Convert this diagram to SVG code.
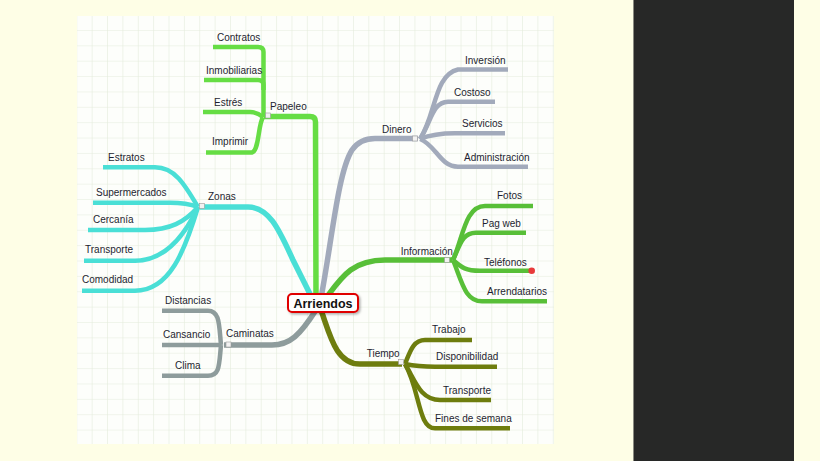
<svg xmlns="http://www.w3.org/2000/svg" width="820" height="461" viewBox="0 0 820 461">
<defs>
<pattern id="grid" x="76.3" y="14.6" width="15.37" height="15.37" patternUnits="userSpaceOnUse">
<path d="M0,0 H15.37 M0,0 V15.37" fill="none" stroke="#e4ecdc" stroke-width="1.2"/>
</pattern>
<filter id="sh" x="-20%" y="-40%" width="140%" height="180%">
<feDropShadow dx="1.5" dy="1.5" stdDeviation="1" flood-color="#000" flood-opacity="0.3"/>
</filter>
</defs>
<style>
.t{font-family:"Liberation Sans",Arial,sans-serif;font-size:10px;fill:#1e1e30}
.b{fill:none;stroke-linecap:butt;stroke-linejoin:round}
.main{stroke-width:5.5}
.leaf{stroke-width:4.5}
.pap{stroke:#66dd44}
.din{stroke:#a2aabb}
.inf{stroke:#58bf38}
.tie{stroke:#6e7d0e}
.cam{stroke:#8e9c9c}
.zon{stroke:#4adfd6}
.cb{fill:#f2f2f2;stroke:#999;stroke-width:0.6}
</style>
<rect width="820" height="461" fill="#fefee6"/>
<rect x="633" y="0" width="161" height="461" fill="#272827"/>
<rect x="633" y="0" width="1" height="461" fill="#8a8a80"/>
<rect x="77" y="16" width="477" height="428" fill="#fdfefb"/>
<rect x="77" y="16" width="477" height="428" fill="url(#grid)"/>

<g id="connectors">
<path class="b main pap" d="M316,298 L315.5,122 Q315.5,116.5 310,116.5 L264,116.5"/>
<path class="b leaf pap" d="M263.5,117 L263.5,52 Q263.5,47 258,47 L213,47"/>
<path class="b leaf pap" d="M263.5,90 L263.5,85 Q263.5,80 258,80 L204,80"/>
<path class="b leaf pap" d="M263,117 C258,113 255,112 250,112 L203,112"/>
<path class="b leaf pap" d="M263,117 C258,125 259,151 252,152.5 L206,152.5"/>

<path class="b main din" d="M321,298 C332,240 338,172 352,150 Q360,138.5 375,138.5 L418,138.5"/>
<path class="b leaf din" d="M420,139 C436,115 434,75 458,69.5 L508,69.5"/>
<path class="b leaf din" d="M420,139 C431,123 432,102 448,101.7 L495,101.7"/>
<path class="b leaf din" d="M420,139 C430,135 440,133.3 455,133.3 L505,133.3"/>
<path class="b leaf din" d="M420,139 C436,145 440,166.7 458,166.7 L528,166.7"/>

<path class="b main inf" d="M323,302 C340,280 350,260 385,260 L452,260"/>
<path class="b leaf inf" d="M453,260 C463,238 465,206 485,206 L533,206"/>
<path class="b leaf inf" d="M453,260 C460,245 462,232.7 476,232.7 L526,232.7"/>
<path class="b leaf inf" d="M453,260 C462,268 466,270.7 480,270.7 L531,270.7"/>
<path class="b leaf inf" d="M453,260 C462,282 465,301.3 482,301.3 L547,301.3"/>

<path class="b main tie" d="M321,310 C330,335 336,364 360,364 L402,364"/>
<path class="b leaf tie" d="M405,364 C410,352 413,340 425,340 L472,340"/>
<path class="b leaf tie" d="M405,364 C415,366 425,366.7 435,366.7 L497,366.7"/>
<path class="b leaf tie" d="M405,364 C415,380 420,400 440,400 L491,400"/>
<path class="b leaf tie" d="M405,364 C420,390 418,428.3 435,428.3 L510,428.3"/>

<path class="b main cam" d="M316,310 C300,335 290,345 272,345 L224,345"/>
<path class="b leaf cam" d="M221,345 C219,325 220,310.7 208,310.7 L162,310.7"/>
<path class="b leaf cam" d="M221,345 L162,345"/>
<path class="b leaf cam" d="M221,345 C219,365 220,375.7 208,375.7 L162,375.7"/>

<path class="b main zon" d="M312,298 L293,260 C280,232 270,207 248,207 L200,207"/>
<path class="b leaf zon" d="M198,207 C185,185 175,167.3 155,167.3 L103,167.3"/>
<path class="b leaf zon" d="M198,207 C190,204 180,202.7 170,202.7 L93,202.7"/>
<path class="b leaf zon" d="M198,207 C185,222 170,230 145,230 L88,230"/>
<path class="b leaf zon" d="M198,207 C185,235 165,260.7 135,260.7 L84,260.7"/>
<path class="b leaf zon" d="M198,207 C185,250 170,290.7 135,290.7 L82,290.7"/>
</g>

<g id="n-arriendos">
<rect x="288" y="294" width="70" height="18" rx="4" fill="#fff" stroke="#e00000" stroke-width="2" filter="url(#sh)"/>
<text x="323" y="308" text-anchor="middle" font-family="Liberation Sans, Arial, sans-serif" font-size="12.5" font-weight="bold" fill="#111">Arriendos</text>
</g>

<g id="n-papeleo"><text class="t" x="270" y="110">Papeleo</text><rect class="cb" x="265.5" y="113" width="5" height="5"/></g>
<g id="n-contratos"><text class="t" x="217" y="40.5">Contratos</text></g>
<g id="n-inmobiliarias"><text class="t" x="206" y="74">Inmobiliarias</text></g>
<g id="n-estres"><text class="t" x="214" y="106">Estrés</text></g>
<g id="n-imprimir"><text class="t" x="212" y="144.5">Imprimir</text></g>

<g id="n-dinero"><text class="t" x="382" y="133">Dinero</text><rect class="cb" x="412.5" y="136" width="5" height="5"/></g>
<g id="n-inversion"><text class="t" x="465" y="63.8">Inversión</text></g>
<g id="n-costoso"><text class="t" x="454" y="95.5">Costoso</text></g>
<g id="n-servicios"><text class="t" x="462" y="127">Servicios</text></g>
<g id="n-administracion"><text class="t" x="464" y="160.5">Administración</text></g>

<g id="n-informacion"><text class="t" x="400.7" y="254.5">Información</text><rect class="cb" x="444.5" y="257.5" width="5" height="5"/></g>
<g id="n-fotos"><text class="t" x="497" y="199">Fotos</text></g>
<g id="n-pagweb"><text class="t" x="482" y="226.5">Pag web</text></g>
<g id="n-telefonos"><text class="t" x="484" y="265.5">Teléfonos</text><circle cx="531.7" cy="270.7" r="3.3" fill="#e83a3a"/></g>
<g id="n-arrendatarios"><text class="t" x="487" y="294.5">Arrendatarios</text></g>

<g id="n-tiempo"><text class="t" x="366.7" y="356.5">Tiempo</text><rect class="cb" x="398.5" y="359.5" width="5" height="5"/></g>
<g id="n-trabajo"><text class="t" x="432" y="333">Trabajo</text></g>
<g id="n-disponibilidad"><text class="t" x="436" y="360">Disponibilidad</text></g>
<g id="n-transporte2"><text class="t" x="443" y="394">Transporte</text></g>
<g id="n-fines"><text class="t" x="435" y="422">Fines de semana</text></g>

<g id="n-caminatas"><text class="t" x="226" y="337">Caminatas</text><rect class="cb" x="226" y="342" width="5" height="5"/></g>
<g id="n-distancias"><text class="t" x="165" y="304">Distancias</text></g>
<g id="n-cansancio"><text class="t" x="163" y="338">Cansancio</text></g>
<g id="n-clima"><text class="t" x="175" y="369">Clima</text></g>

<g id="n-zonas"><text class="t" x="208" y="199.5">Zonas</text><rect class="cb" x="199.5" y="203.5" width="5" height="5"/></g>
<g id="n-estratos"><text class="t" x="108" y="161">Estratos</text></g>
<g id="n-supermercados"><text class="t" x="96" y="195.5">Supermercados</text></g>
<g id="n-cercania"><text class="t" x="93" y="223">Cercanía</text></g>
<g id="n-transporte1"><text class="t" x="85" y="253">Transporte</text></g>
<g id="n-comodidad"><text class="t" x="82" y="283">Comodidad</text></g>
</svg>
